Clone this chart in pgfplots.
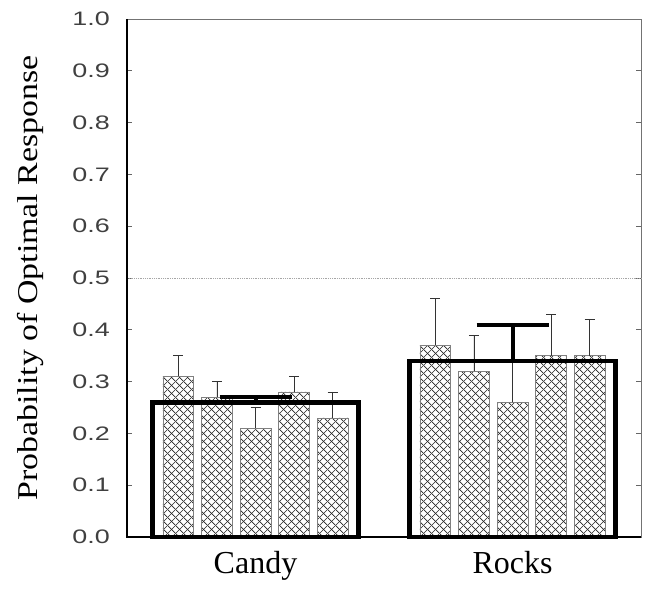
\documentclass[border=0pt]{standalone}
\usepackage{pgfplots}
\pgfplotsset{compat=1.18}
\usepackage{fontspec}
\usetikzlibrary{patterns.meta}
\newfontfamily\ticklab[FakeStretch=1.38]{Liberation Sans}
\newfontfamily\lab{Liberation Serif}
\newfontfamily\ylab[FakeStretch=1.18]{Liberation Serif}
\tikzdeclarepattern{
  name=xhatch,
  type=uncolored,
  bottom left={(0bp,0bp)},
  top right={(8bp,8bp)},
  tile size={(8bp,8bp)},
  code={
    \draw[line width=0.75bp] (-1bp,-1bp) -- (9bp,9bp);
    \draw[line width=0.75bp] (-1bp,9bp) -- (9bp,-1bp);
  }
}
\begin{document}
\begin{tikzpicture}
\begin{axis}[
  scale only axis,
  width=514bp, height=518bp,
  xmin=0.5, xmax=2.5,
  ymin=0, ymax=1,
  xtick={1,2},
  xticklabels={Candy,Rocks},
  xtick style={draw=none},
  xticklabel style={font=\lab\fontsize{32bp}{34bp}\selectfont, anchor=base, yshift=-36bp},
  ytick={0,0.1,...,1.0},
  yticklabel style={font=\ticklab\fontsize{19.5bp}{20bp}\selectfont, color=black!75, anchor=east, inner sep=0pt, xshift=-17bp,
    /pgf/number format/.cd, fixed, fixed zerofill, precision=1, assume math mode=true},
  major tick length=5bp,
  ytick style={black!60, line width=0.6bp},
  axis line style={black!55, line width=0.6bp},
  clip=false,
]
% reference line at 0.5
\addplot[densely dotted, black!35, line width=0.8bp] coordinates {(0.5,0.5) (2.5,0.5)};
% individual (hatched) bars
\addplot[ybar, bar width=0.12, bar shift=0pt, draw=black!50, line width=0.7bp,
  pattern=xhatch, pattern color=black!85,
  error bars/.cd, y dir=plus, y explicit,
  error bar style={black!80, line width=0.6bp},
  error mark options={rotate=90, mark size=5bp, black!80, line width=0.6bp}]
coordinates {
  (0.70,0.31) +- (0,0.04)
  (0.85,0.27) +- (0,0.03)
  (1.00,0.21) +- (0,0.04)
  (1.15,0.28) +- (0,0.03)
  (1.30,0.23) +- (0,0.05)
  (1.70,0.37) +- (0,0.09)
  (1.85,0.32) +- (0,0.07)
  (2.00,0.26) +- (0,0.15)
  (2.15,0.35) +- (0,0.08)
  (2.30,0.35) +- (0,0.07)
};
% group means (thick outline)
\addplot[ybar, bar width=0.8, bar shift=0pt, draw=black, fill=none, line width=4.5bp,
  error bars/.cd, y dir=plus, y explicit,
  error bar style={black, line width=4bp},
  error mark options={rotate=90, mark size=36bp, black, line width=4bp}]
coordinates {
  (1,0.26) +- (0,0.01)
  (2,0.34) +- (0,0.07)
};
\draw[black, line width=1.2bp] (rel axis cs:0,1) -- (rel axis cs:0,0) -- (rel axis cs:1,0);
\end{axis}
\node[rotate=90, anchor=base, font=\ylab\fontsize{28.7bp}{30bp}\selectfont] at (-89bp,259bp) {Probability of Optimal Response};
\pgfresetboundingbox
\path[use as bounding box] (-127bp,-60bp) rectangle (520bp,537bp);
\end{tikzpicture}
\end{document}
